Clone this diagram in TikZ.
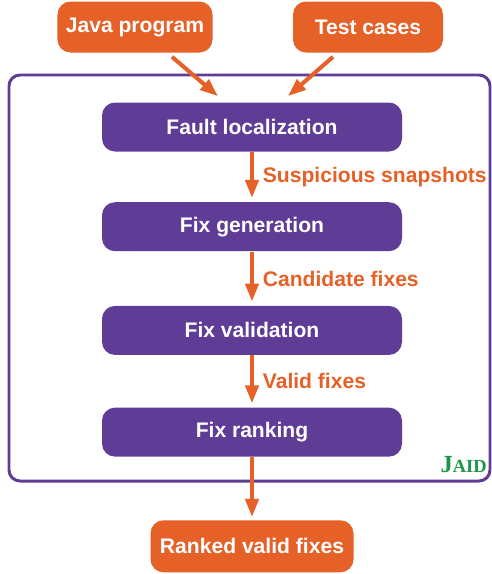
\documentclass[tikz,border=0pt]{standalone}
\usepackage{fontspec}
\setmainfont{Liberation Sans}
\newfontfamily\jaidfont{Liberation Serif}
\usetikzlibrary{positioning,arrows.meta}

\definecolor{jorange}{RGB}{229,97,39}
\definecolor{jpurple}{RGB}{95,60,150}
\definecolor{jgreen}{RGB}{28,150,72}

\begin{document}
\begin{tikzpicture}[node distance={1cm}, font=\fontsize{12}{14}\selectfont\bfseries,
    io/.style={fill=jorange, text=white, rounded corners=0.26cm, minimum height=1.02cm},
    stage/.style={fill=jpurple, text=white, rounded corners=0.26cm, minimum width=6cm, minimum height=0.98cm},
    flow/.style={draw=jorange, line width=2.3pt, -{Triangle[length=0.36cm,width=0.34cm,angle'=40]}},
    tag/.style={text=jorange, anchor=west, xshift=0.06cm}]
    \useasboundingbox (0,0) rectangle (9.84,-11.48);

    \node[io, minimum width=3.1cm] (java) at (2.70,-0.54) {Java program};
    \node[io, minimum width=3.0cm] (tests) at (7.36,-0.54) {Test cases};

    \node[stage] (fault) at (5.04,-2.54) {Fault localization};
    \node[stage] (gen) [below = 1.0cm of fault] {Fix generation};
    \node[stage] (val) [below = 1.08cm of gen] {Fix validation};
    \node[stage] (rank) [below = 1.04cm of val] {Fix ranking};
    \node[io, minimum width=4.06cm, minimum height=1.04cm] (out) [below = 1.26cm of rank] {Ranked valid fixes};

    % tool frame
    \draw[jpurple, line width=1.7pt, rounded corners=0.22cm] (0.18,-1.50) rectangle (9.80,-9.62);
    \node[font=\jaidfont\bfseries, text=jgreen, anchor=south east, inner sep=0pt] (jaid) at (9.74,-9.46)
        {\fontsize{14}{14}\selectfont J\fontsize{10.5}{10.5}\selectfont AID};

    \draw[flow] ([xshift=0.74cm,yshift=-0.08cm]java.south) -- ([xshift=-0.68cm,yshift=0.12cm]fault.north);
    \draw[flow] ([xshift=-0.70cm,yshift=-0.08cm]tests.south) -- ([xshift=0.72cm,yshift=0.12cm]fault.north);

    \draw[flow, shorten >=0.08cm] (fault) -- node[tag] {Suspicious snapshots} (gen);
    \draw[flow, shorten >=0.08cm] (gen) -- node[tag] {Candidate fixes} (val);
    \draw[flow, shorten >=0.08cm] (val) -- node[tag] {Valid fixes} (rank);
    \draw[flow, shorten >=0.06cm] (rank) -- (out);
\end{tikzpicture}
\end{document}
